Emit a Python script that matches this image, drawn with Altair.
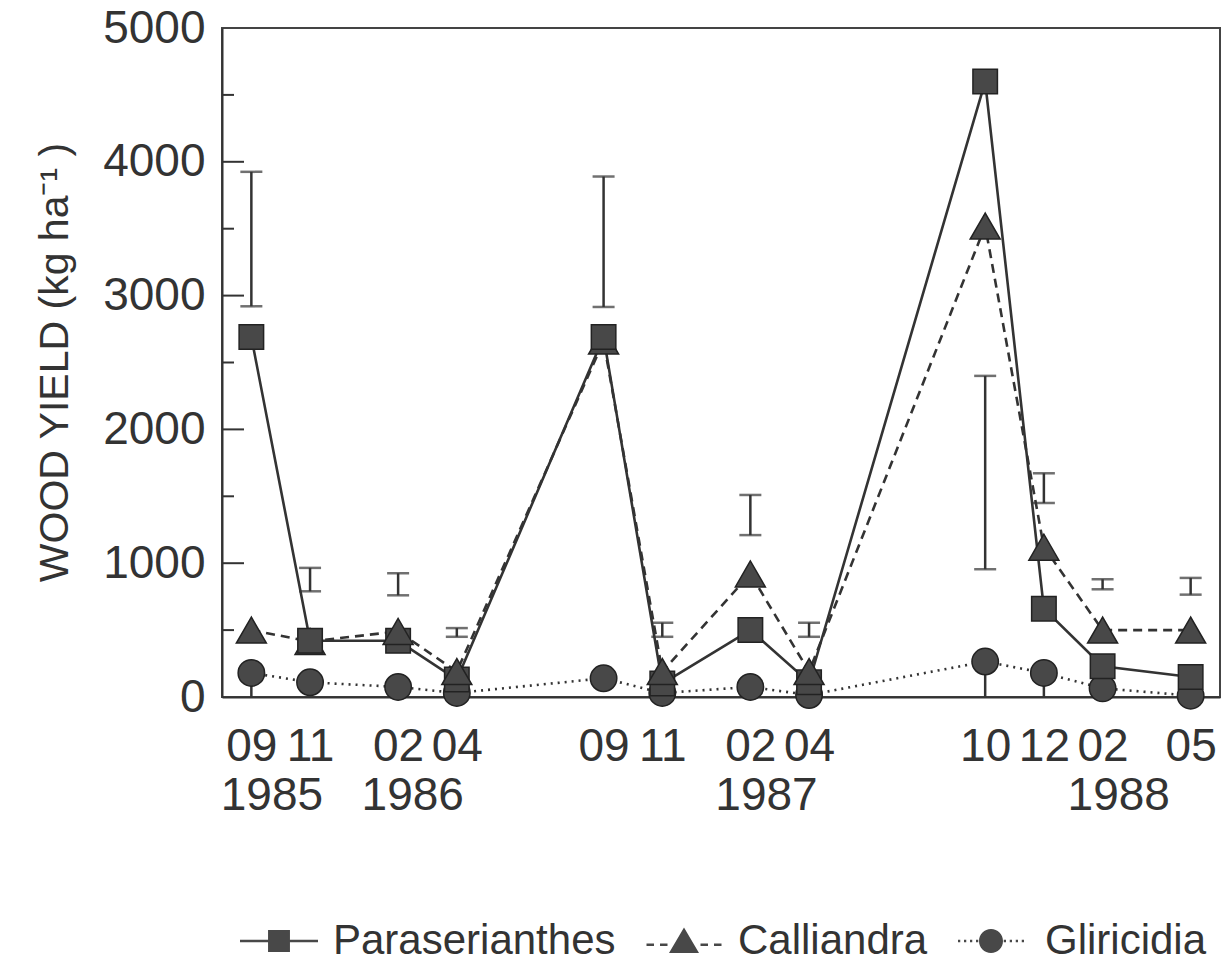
import altair as alt
import pandas as pd

# ---------------- data ----------------
dates = ["1985-09", "1985-11", "1986-02", "1986-04", "1986-09", "1986-11",
         "1987-02", "1987-04", "1987-10", "1987-12", "1988-02", "1988-05"]
paraserianthes = [2690, 420, 420, 130, 2690, 100, 500, 110, 4600, 660, 230, 150]
calliandra = [500, 415, 490, 190, 2660, 190, 920, 190, 3520, 1120, 500, 500]
gliricidia = [180, 110, 75, 30, 140, 30, 75, 15, 265, 180, 65, 10]
err_low = [2920, 790, 760, 450, 2915, 450, 1210, 450, 955, 1450, 805, 765]
err_high = [3925, 965, 925, 515, 3890, 555, 1510, 555, 2400, 1672, 880, 890]
glir_stem_dates = ["1985-09", "1987-10", "1987-12"]
# dates at which the Calliandra triangle is hidden behind the Paraserianthes square
calliandra_behind_dates = ["1985-11", "1986-09"]
year_labels = ["1985", "1986", "1987", "1988"]
year_label_months = [0.7, 5.5, 17.55, 29.55]   # months after Sep 1985
y_major = [1000, 2000, 3000, 4000]
y_minor = [500, 1500, 2500, 3500, 4500]
series_names = ["Paraserianthes", "Calliandra", "Gliricidia"]

FONT = "Liberation Sans"
INK = "#333333"
FILL = "#484848"


def month_index(d):
    y, m = map(int, d.split("-"))
    return (y - 1985) * 12 + m - 9


t = [month_index(d) for d in dates]
values = {"Paraserianthes": paraserianthes, "Calliandra": calliandra, "Gliricidia": gliricidia}
long_df = pd.DataFrame([
    {"series": s, "t": ti, "v": vi}
    for s in series_names for ti, vi in zip(t, values[s])
])
err_df = pd.DataFrame({"t": t, "v": err_low, "hi": err_high})
caps_df = pd.DataFrame({"t": t + t, "v": err_low + err_high})
stem_t = [month_index(d) for d in glir_stem_dates]
stem_df = pd.DataFrame({"t": stem_t, "v": [0] * len(stem_t),
                        "hi": [gliricidia[t.index(s)] for s in stem_t]})
year_df = pd.DataFrame({"t": year_label_months, "label": year_labels})
major_df = pd.DataFrame({"v": y_major})
minor_df = pd.DataFrame({"v": y_minor})
behind_t = [month_index(d) for d in calliandra_behind_dates]

xscale = alt.Scale(domain=[-1, 33], nice=False, zero=False)
yscale = alt.Scale(domain=[0, 5000], nice=False, zero=True)

x_axis = alt.Axis(
    values=t, labelExpr="pad(toString((datum.value + 8) % 12 + 1), 2, '0', 'left')",
    ticks=False, tickSize=0, grid=False, title=None, labelFont=FONT, labelFontSize=46,
    labelColor=INK, labelPadding=27, labelOverlap=False, labelFlush=False, labelBound=False,
    domainColor=INK, domainWidth=2,
)
y_axis = alt.Axis(
    values=[0, 1000, 2000, 3000, 4000, 5000], format="d", ticks=False, tickSize=0, grid=False,
    title="WOOD YIELD (kg ha\u207b\u00b9 )", titleFont=FONT, titleFontSize=41,
    titleFontWeight="normal", titleColor=INK, titleX=-167, titleY=334,
    titleAngle=270, titleAlign="center", titleBaseline="middle",
    labelFont=FONT, labelFontSize=46, labelColor=INK, labelPadding=17,
    labelOverlap=False, labelFlush=False, domainColor=INK, domainWidth=2,
)

X = alt.X("t:Q", scale=xscale, axis=x_axis, title=None)
Y = alt.Y("v:Q", scale=yscale, axis=y_axis, title="WOOD YIELD (kg ha\u207b\u00b9 )")

layers = []

# inward axis ticks on the left
layers.append(alt.Chart(major_df).mark_rule(color=INK, strokeWidth=2).encode(
    y=Y, x=alt.value(0), x2=alt.value(22)))
layers.append(alt.Chart(minor_df).mark_rule(color=INK, strokeWidth=2).encode(
    y=Y, x=alt.value(0), x2=alt.value(12)))

# error bars
layers.append(alt.Chart(err_df).mark_rule(color=INK, strokeWidth=2.5).encode(
    x=X, y=Y, y2="hi:Q"))
layers.append(alt.Chart(caps_df).mark_tick(orient="horizontal", color=INK, size=22,
                                           thickness=2.5).encode(x=X, y=Y))
layers.append(alt.Chart(stem_df).mark_rule(color=INK, strokeWidth=2.5).encode(
    x=X, y=Y, y2="hi:Q"))

# lines
dash = {"Paraserianthes": None, "Calliandra": [9, 6], "Gliricidia": [2, 5]}
for s in series_names:
    kw = dict(color=INK, strokeWidth=2.6)
    if dash[s]:
        kw["strokeDash"] = dash[s]
    layers.append(alt.Chart(long_df).transform_filter(alt.datum.series == s)
                  .mark_line(**kw).encode(x=X, y=Y, order="t:Q"))


# points: circles, hidden triangles, squares, then the other triangles
def points(series, shape, size, flt=None):
    c = alt.Chart(long_df).transform_filter(alt.datum.series == series)
    if flt is not None:
        c = c.transform_filter(flt)
    return c.mark_point(shape=shape, size=size, filled=True, fill=FILL, stroke="#222222",
                        strokeWidth=1.5, opacity=1).encode(x=X, y=Y)


behind = alt.FieldOneOfPredicate(field="t", oneOf=behind_t)
layers.append(points("Gliricidia", "circle", 700))
layers.append(points("Calliandra", "triangle-up", 900, behind))
layers.append(points("Paraserianthes", "square", 600))
layers.append(points("Calliandra", "triangle-up", 900, ~behind))

# year labels under the month labels
layers.append(alt.Chart(year_df).mark_text(font=FONT, fontSize=46, color=INK,
                                            baseline="middle", align="center").encode(
    x=X, y=alt.value(768), text="label:N"))


# legend (invisible marks carrying the legend symbols; line stubs drawn as thin filled bars)
def bar(x0, x1, y=0.0, h=0.09):
    return f"M{x0},{y - h}H{x1}V{y + h}H{x0}Z"


sq = "M-0.73,-0.73H0.73V0.73H-0.73Z"
tri = "M0,-0.9L1,0.8L-1,0.8Z"
circ = "M0.8,0A0.8,0.8,0,1,1,-0.8,0A0.8,0.8,0,1,1,0.8,0Z"
legend_paths = [
    bar(-2.6, -0.7) + bar(0.7, 2.6) + sq,
    bar(-2.5, -2.0, 0.25) + bar(-1.6, -1.1, 0.25) + bar(1.1, 1.6, 0.25) + bar(2.0, 2.5, 0.25) + tri,
    "".join(bar(a, a + 0.15, 0, 0.08) for a in [-2.2, -1.8, -1.4, -1.0, 0.85, 1.25, 1.65, 2.05]) + circ,
]
layers.append(alt.Chart(long_df).mark_point(filled=True, color=FILL, opacity=0).encode(
    x=X, y=Y,
    shape=alt.Shape("series:N", scale=alt.Scale(domain=series_names, range=legend_paths),
                    legend=alt.Legend(
                        orient="none", legendX=36, legendY=892, direction="horizontal",
                        title=None, padding=0, labelFont=FONT, labelFontSize=42,
                        labelColor=INK, labelLimit=600, symbolSize=900,
                        symbolStrokeWidth=0, symbolFillColor=FILL, symbolOpacity=1,
                        labelOffset=33, columnPadding=30)),
))

chart = alt.layer(*layers).properties(
    width=998, height=669,
    autosize=alt.AutoSizeParams(type="none"),
    padding={"left": 222, "top": 28, "right": 2, "bottom": 265},
).configure(background="white").configure_view(stroke="#444444", strokeWidth=2)

chart.save("out.html", embed_options={"renderer": "svg", "actions": False})
